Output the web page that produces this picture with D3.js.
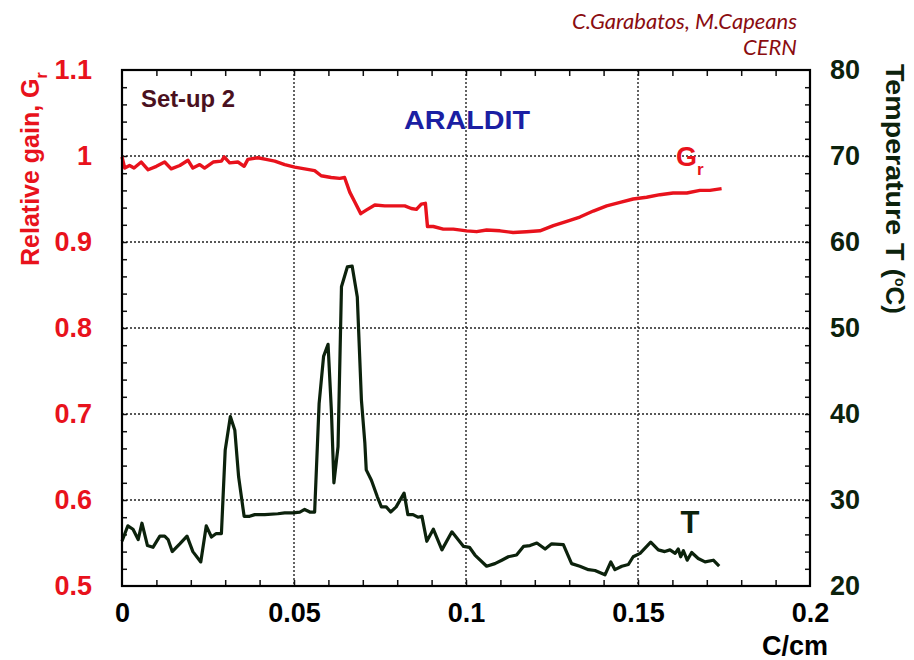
<!DOCTYPE html>
<html>
<head>
<meta charset="utf-8">
<script src="https://cdn.jsdelivr.net/npm/d3@7"></script>
<style>
  html, body { margin: 0; padding: 0; background: #ffffff; }
  svg { display: block; }
</style>
</head>
<body>
<svg id="chart" width="914" height="660"></svg>
<script>
// Relative gain (left axis) versus accumulated charge
const gainCharge = [0, 0.0008, 0.0022, 0.0035, 0.0056, 0.0076, 0.0100, 0.0124, 0.0143, 0.0168,
  0.0192, 0.0206, 0.0226, 0.0240, 0.0265, 0.0289, 0.0297, 0.0313, 0.0337, 0.0355,
  0.0366, 0.0395, 0.0419, 0.0444, 0.0473, 0.0502, 0.0531, 0.0560, 0.0579, 0.0608,
  0.0633, 0.0647, 0.0662, 0.0676, 0.0694, 0.0710, 0.0735, 0.0764, 0.0793, 0.0822,
  0.0841, 0.0856, 0.0870, 0.0882, 0.0888, 0.0905, 0.0934, 0.0963, 0.1002, 0.1031,
  0.1060, 0.1099, 0.1137, 0.1176, 0.1215, 0.1254, 0.1293, 0.1331, 0.1370, 0.1409,
  0.1448, 0.1486, 0.1525, 0.1564, 0.1602, 0.1642, 0.1680, 0.1709, 0.1743];
const gainValues = [0.999, 0.986, 0.989, 0.986, 0.993, 0.984, 0.988, 0.993, 0.985, 0.989,
  0.995, 0.986, 0.990, 0.986, 0.993, 0.994, 0.999, 0.992, 0.993, 0.988,
  0.996, 0.998, 0.996, 0.994, 0.990, 0.987, 0.985, 0.983, 0.977, 0.975,
  0.974, 0.975, 0.958, 0.947, 0.933, 0.937, 0.943, 0.942, 0.942, 0.942,
  0.939, 0.938, 0.944, 0.945, 0.918, 0.918, 0.915, 0.915, 0.913, 0.912,
  0.914, 0.913, 0.911, 0.912, 0.913, 0.919, 0.924, 0.929, 0.936, 0.942,
  0.946, 0.950, 0.952, 0.955, 0.957, 0.957, 0.960, 0.960, 0.962];

// Temperature (right axis) versus accumulated charge
const tempCharge = [0, 0.0017, 0.0032, 0.0047, 0.0058, 0.0074, 0.0090, 0.0110, 0.0124, 0.0134,
  0.0146, 0.0168, 0.0189, 0.0206, 0.0229, 0.0245, 0.0260, 0.0274, 0.0289, 0.0300,
  0.0315, 0.0328, 0.0339, 0.0355, 0.0371, 0.0386, 0.0415, 0.0453, 0.0473, 0.0497,
  0.0517, 0.0531, 0.0546, 0.0560, 0.0573, 0.0586, 0.0599, 0.0609, 0.0616, 0.0628,
  0.0638, 0.0655, 0.0669, 0.0684, 0.0696, 0.0706, 0.0710, 0.0725, 0.0742, 0.0754,
  0.0768, 0.0781, 0.0797, 0.0820, 0.0831, 0.0846, 0.0860, 0.0872, 0.0886, 0.0905,
  0.0930, 0.0959, 0.0993, 0.1010, 0.1026, 0.1060, 0.1084, 0.1104, 0.1123, 0.1147,
  0.1167, 0.1186, 0.1206, 0.1230, 0.1249, 0.1283, 0.1307, 0.1331, 0.1356, 0.1375,
  0.1404, 0.1421, 0.1433, 0.1453, 0.1472, 0.1486, 0.1506, 0.1537, 0.1559, 0.1578,
  0.1593, 0.1608, 0.1617, 0.1624, 0.1632, 0.1643, 0.1656, 0.1675, 0.1695, 0.1719, 0.1736];
const tempValues = [25.2, 27.0, 26.6, 25.4, 27.3, 24.7, 24.5, 25.8, 25.8, 25.4,
  24.0, 24.9, 25.8, 24.0, 22.8, 27.0, 25.7, 26.1, 26.1, 35.8,
  39.7, 38.1, 32.7, 28.1, 28.1, 28.3, 28.3, 28.4, 28.5, 28.5,
  28.6, 28.9, 28.6, 28.6, 41.2, 46.7, 48.1, 40.1, 32.0, 36.2,
  54.8, 57.1, 57.2, 53.6, 41.6, 36.6, 33.5, 32.3, 30.4, 29.2,
  29.2, 28.6, 29.2, 30.8, 28.3, 28.3, 28.0, 28.1, 25.2, 26.6,
  24.2, 26.3, 24.6, 24.5, 23.6, 22.3, 22.6, 23.0, 23.4, 23.6,
  24.6, 24.7, 25.0, 24.3, 24.9, 24.8, 22.6, 22.3, 21.9, 21.8,
  21.3, 22.8, 21.9, 22.3, 22.5, 23.4, 23.8, 25.1, 24.2, 24.0,
  24.2, 23.8, 24.3, 23.4, 24.1, 23.0, 23.9, 23.2, 22.8, 23.0, 22.3];

// Tick labels
const chargeTicks = [0, 0.05, 0.1, 0.15, 0.2];
const gainTicks = [0.5, 0.6, 0.7, 0.8, 0.9, 1, 1.1];
const tempTicks = [20, 30, 40, 50, 60, 70, 80];

const RED = "#e8121c";
const DARK = "#0c220c";

const svg = d3.select("#chart");
const L = 122, R = 810, T = 70, B = 586;

const x = d3.scaleLinear().domain([0, 0.2]).range([L, R]);
const yG = d3.scaleLinear().domain([0.5, 1.1]).range([B, T]);
const yT = d3.scaleLinear().domain([20, 80]).range([B, T]);

svg.append("rect").attr("width", 914).attr("height", 660).attr("fill", "#ffffff");

// dotted grid at the labelled values (inside the frame)
const grid = svg.append("g").attr("stroke", "#222").attr("stroke-width", 1.4)
  .attr("stroke-dasharray", "2,2");
grid.selectAll("line.gx").data(chargeTicks.filter(v => v > 0 && v < 0.2)).join("line")
  .attr("x1", d => x(d)).attr("x2", d => x(d)).attr("y1", T).attr("y2", B);
grid.selectAll("line.gy").data(gainTicks.filter(v => v > 0.5 && v < 1.1)).join("line")
  .attr("x1", L).attr("x2", R).attr("y1", d => yG(d)).attr("y2", d => yG(d));

// minor ticks pointing inwards on all four sides
const minorX = d3.range(1, 20).map(i => i / 100);
const minorY = d3.range(1, 30).map(i => 0.5 + i * 0.02);
const minorT = d3.range(1, 30).map(i => 20 + i * 2);

svg.append("g").attr("transform", `translate(0,${B})`)
  .call(d3.axisBottom(x).tickValues(minorX).tickSize(-6).tickFormat(""))
  .call(g => g.select(".domain").remove())
  .selectAll("line").attr("stroke", "#111").attr("stroke-width", 1.5);
svg.append("g").attr("transform", `translate(0,${T})`)
  .call(d3.axisTop(x).tickValues(minorX).tickSize(-6).tickFormat(""))
  .call(g => g.select(".domain").remove())
  .selectAll("line").attr("stroke", "#111").attr("stroke-width", 1.5);
svg.append("g").attr("transform", `translate(${L},0)`)
  .call(d3.axisLeft(yG).tickValues(minorY).tickSize(-5).tickFormat(""))
  .call(g => g.select(".domain").remove())
  .selectAll("line").attr("stroke", "#111").attr("stroke-width", 1.5);
svg.append("g").attr("transform", `translate(${R},0)`)
  .call(d3.axisRight(yT).tickValues(minorT).tickSize(-5).tickFormat(""))
  .call(g => g.select(".domain").remove())
  .selectAll("line").attr("stroke", "#111").attr("stroke-width", 1.5);

// labelled axes
const labelFont = "'Liberation Sans', Arial, sans-serif";
const fmtC = d => d === 0 ? "0" : String(d);
svg.append("g").attr("transform", `translate(0,${B})`)
  .call(d3.axisBottom(x).tickValues(chargeTicks).tickSize(0).tickPadding(17).tickFormat(fmtC))
  .call(g => g.select(".domain").remove())
  .selectAll("text").attr("font-family", labelFont).attr("font-weight", "bold")
  .attr("font-size", 27).attr("fill", "#000");
svg.append("g").attr("transform", `translate(${L},0)`)
  .call(d3.axisLeft(yG).tickValues(gainTicks).tickSize(0).tickPadding(30).tickFormat(d => String(d)))
  .call(g => g.select(".domain").remove())
  .selectAll("text").attr("font-family", labelFont).attr("font-weight", "bold")
  .attr("font-size", 27).attr("fill", RED);
svg.append("g").attr("transform", `translate(${R},0)`)
  .call(d3.axisRight(yT).tickValues(tempTicks).tickSize(0).tickPadding(20).tickFormat(d => String(d)))
  .call(g => g.select(".domain").remove())
  .selectAll("text").attr("font-family", labelFont).attr("font-weight", "bold")
  .attr("font-size", 27).attr("fill", DARK);

// data curves
const gainLine = d3.line().x(d => x(d[0])).y(d => yG(d[1]));
const tempLine = d3.line().x(d => x(d[0])).y(d => yT(d[1]));

svg.append("path").datum(gainCharge.map((c, i) => [c, gainValues[i]]))
  .attr("d", gainLine).attr("fill", "none").attr("stroke", RED)
  .attr("stroke-width", 3.4).attr("stroke-linejoin", "round");
svg.append("path").datum(tempCharge.map((c, i) => [c, tempValues[i]]))
  .attr("d", tempLine).attr("fill", "none").attr("stroke", DARK)
  .attr("stroke-width", 3.2).attr("stroke-linejoin", "round");

// frame
svg.append("rect").attr("x", L).attr("y", T).attr("width", R - L).attr("height", B - T)
  .attr("fill", "none").attr("stroke", "#000").attr("stroke-width", 2.2);

// annotations
svg.append("text").attr("x", 141).attr("y", 107).text("Set-up 2")
  .attr("font-family", labelFont).attr("font-weight", "bold").attr("font-size", 24)
  .attr("fill", "#4a1020").attr("textLength", 94).attr("lengthAdjust", "spacingAndGlyphs");
svg.append("text").attr("x", 404).attr("y", 129).text("ARALDIT")
  .attr("font-family", labelFont).attr("font-weight", "bold").attr("font-size", 26)
  .attr("fill", "#1b1fa3").attr("textLength", 126).attr("lengthAdjust", "spacingAndGlyphs");

const gLabel = svg.append("text").attr("x", 676).attr("y", 166)
  .attr("font-family", labelFont).attr("font-weight", "bold").attr("font-size", 27).attr("fill", RED);
gLabel.append("tspan").text("G");
gLabel.append("tspan").attr("font-size", 17).attr("dy", 9).text("r");

svg.append("text").attr("x", 690).attr("y", 533).attr("text-anchor", "middle").text("T")
  .attr("font-family", labelFont).attr("font-weight", "bold").attr("font-size", 31).attr("fill", DARK);

svg.append("text").attr("x", 828).attr("y", 655).attr("text-anchor", "end").text("C/cm")
  .attr("font-family", labelFont).attr("font-weight", "bold").attr("font-size", 27).attr("fill", "#000");

// axis titles
const leftTitle = svg.append("text")
  .attr("transform", "translate(39,266) rotate(-90)")
  .attr("font-family", labelFont).attr("font-weight", "bold").attr("font-size", 25).attr("fill", RED);
leftTitle.append("tspan").text("Relative gain, G");
leftTitle.append("tspan").attr("font-size", 16).attr("dy", 8).text("r");

const rightTitle = svg.append("text")
  .attr("transform", "translate(886,64) rotate(90)")
  .attr("font-family", labelFont).attr("font-weight", "bold").attr("font-size", 26).attr("fill", DARK);
rightTitle.append("tspan").attr("textLength", 214).attr("lengthAdjust", "spacingAndGlyphs")
  .text("Temperature T (");
rightTitle.append("tspan").attr("font-size", 14).attr("dy", -9).text("o");
rightTitle.append("tspan").attr("dy", 9).text("C)");

// credits
const credit = svg.append("g").attr("font-family", "Lato, 'Open Sans', sans-serif")
  .attr("font-style", "italic").attr("font-size", 22).attr("fill", "#8a0c10")
  .attr("text-anchor", "end");
credit.append("text").attr("x", 797).attr("y", 29).text("C.Garabatos, M.Capeans");
credit.append("text").attr("x", 797).attr("y", 55).text("CERN");
</script>
</body>
</html>
